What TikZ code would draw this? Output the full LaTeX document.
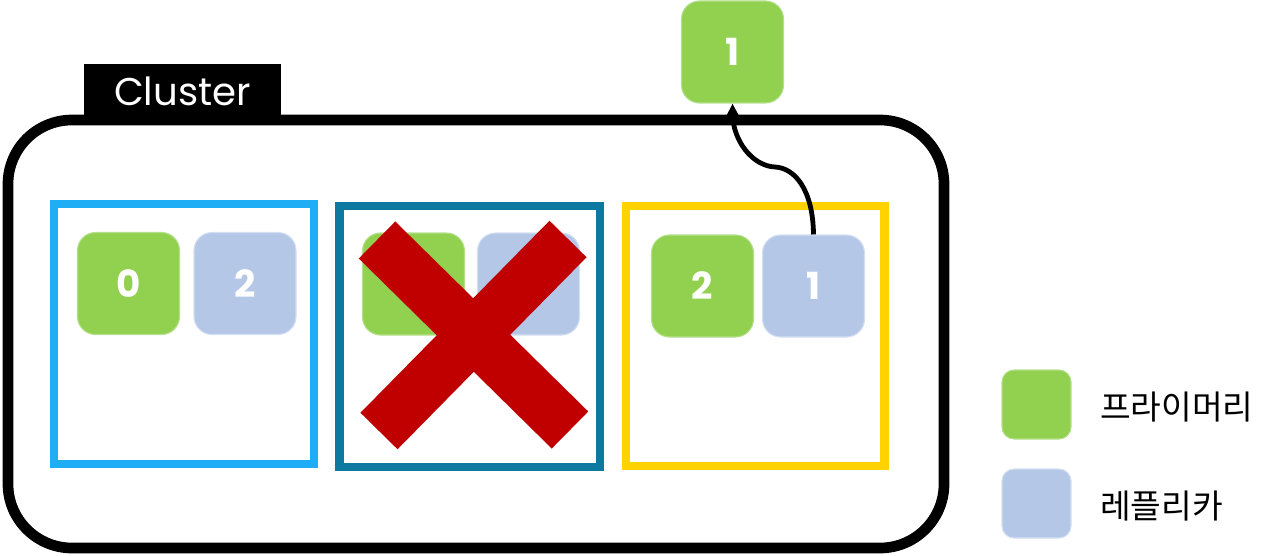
\documentclass[tikz,border=0pt]{standalone}
\usepackage{fontspec}
\newfontfamily\pop{Poppins}
\newfontfamily\kr{Noto Sans CJK KR}
\usetikzlibrary{arrows.meta}
\definecolor{prim}{HTML}{92D050}
\definecolor{primline}{HTML}{B4E08C}
\definecolor{rep}{HTML}{B4C7E7}
\definecolor{repline}{HTML}{D3DFF2}
\definecolor{bluebox}{HTML}{1FAEF5}
\definecolor{tealbox}{HTML}{0E79A0}
\definecolor{goldbox}{HTML}{FFD200}
\definecolor{xred}{HTML}{C00000}
\tikzset{
  shard/.style={rounded corners=13.5pt, minimum width=76.5pt, minimum height=76.5pt, inner sep=0pt, line width=0.8pt, text=white, font=\pop\bfseries\fontsize{28}{30}\selectfont},
  prim/.style={shard, draw=primline, fill=prim},
  rep/.style={shard, draw=repline, fill=rep},
  legendbox/.style={rounded corners=9pt, minimum width=51.75pt, minimum height=51.75pt, inner sep=0pt, line width=0.8pt},
  legendtext/.style={anchor=west, inner sep=0pt, font=\kr\fontsize{25}{27}\selectfont},
  nodebox/.style={line width=6.4pt},
  conn/.style={line width=3.6pt, -{Triangle[length=9pt,width=8.5pt]}},
}
\begin{document}
\begin{tikzpicture}[x=0.75pt,y=-0.75pt]
\useasboundingbox (0,0) rectangle (1280,556);
% cluster outline
\draw[line width=8pt, rounded corners=48pt] (8,120) rectangle (944,548);
\fill[black] (84,64) rectangle (281,118);
\node[text=white, font=\pop\fontsize{29}{31}\selectfont, inner sep=0pt] (clusterlabel) at (182.5,91) {Cluster};
% server boxes
\draw[nodebox, draw=bluebox] (54,204) rectangle (314,464);
\draw[nodebox, draw=tealbox] (339.5,206) rectangle (600,467);
\draw[nodebox, draw=goldbox] (626,206) rectangle (884.5,466);
% shards
\node[prim] (a0) at (128.5,283.5) {0};
\node[rep]  (a2) at (245,283.5) {2};
\node[prim] (b0) at (413.5,284) {};
\node[rep]  (b2) at (528.5,284) {};
\node[prim] (c2) at (702.5,286) {2};
\node[rep]  (c1) at (813.5,286) {1};
\node[prim] (top1) at (732.5,52) {1};
% red X
\draw[xred, line width=39pt] (377,240) -- (570,430);
\draw[xred, line width=39pt] (568,239) -- (379,431);
% connector
\draw[conn] (c1.north) .. controls (813,190) and (795,168) .. (775,167) .. controls (752,166) and (733,140) .. (top1.south);
% legend
\node[legendbox, draw=primline, fill=prim] (lp) at (1036.5,404.5) {};
\node[legendbox, draw=repline, fill=rep] (lr) at (1036.5,503.5) {};
\node[legendtext] (lpt) at (1100,407) {프라이머리};
\node[legendtext] (lrt) at (1100,506) {레플리카};
\end{tikzpicture}
\end{document}
